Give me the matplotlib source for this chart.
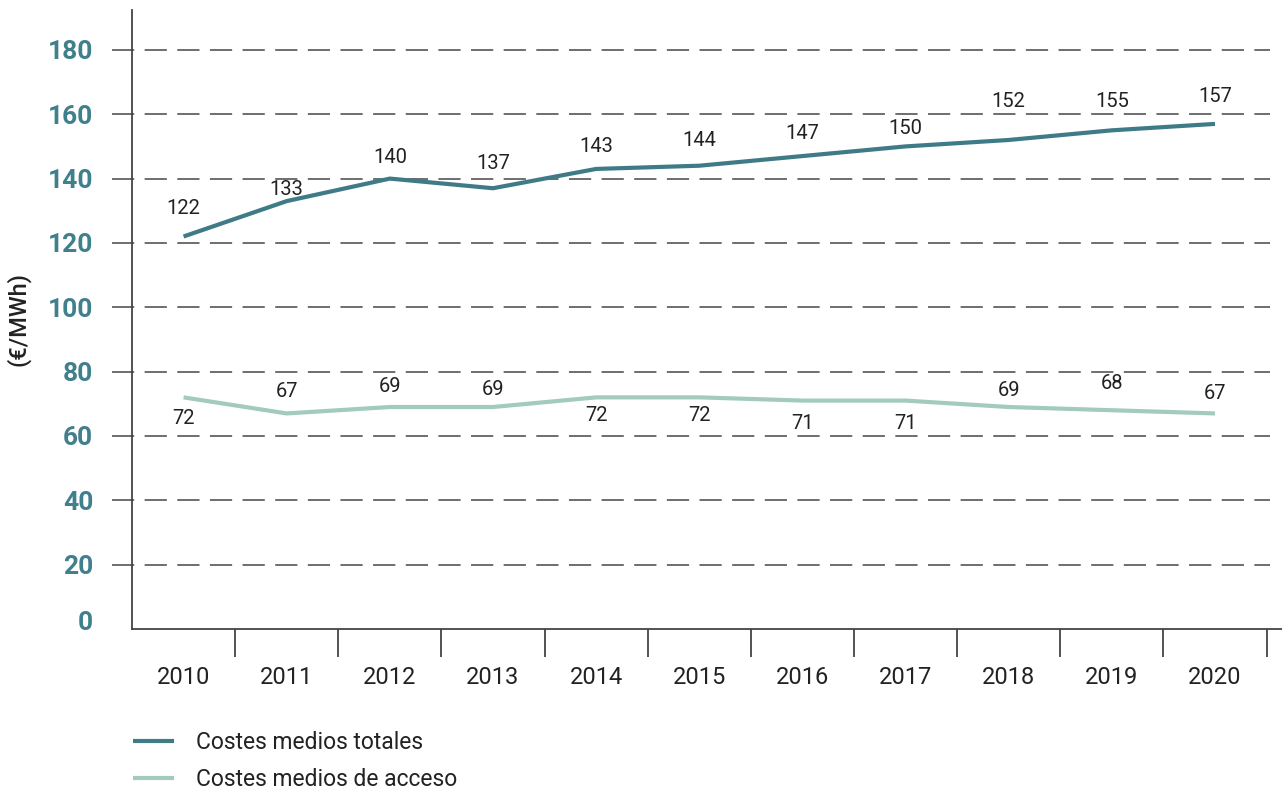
import matplotlib.pyplot as plt
from matplotlib.ticker import FixedLocator, NullFormatter
from matplotlib.transforms import ScaledTranslation

plt.rcParams['font.family'] = ['Roboto', 'DejaVu Sans']
plt.rcParams['lines.scale_dashes'] = False

# data
years = ['2010', '2011', '2012', '2013', '2014', '2015', '2016', '2017', '2018', '2019', '2020']
totales = [122, 133, 140, 137, 143, 144, 147, 150, 152, 155, 157]
acceso = [72, 67, 69, 69, 72, 72, 71, 71, 69, 68, 67]
y_ticks = [0, 20, 40, 60, 80, 100, 120, 140, 160, 180]

# label offsets in pixels (placement only)
off_totales = [28, 12, 21, 25, 22, 25, 23, 18, 38, 29, 27]
off_acceso = [-21, 22, 21, 18, -18, -18, -23, -23, 17, 27, 20]

c_tot = '#3e7b87'
c_acc = '#a2cbbb'
c_tick = '#3f808c'
c_grid = '#555555'

fig = plt.figure(figsize=(12.82, 7.92), dpi=100)
ax = fig.add_axes([132 / 1282, 1 - 629 / 792, 1150 / 1282, 619 / 792])

x = list(range(len(years)))
ax.set_xlim(-0.5, 10.65)
ax.set_ylim(0, 192.4)

# dashed grid lines, poking out left of the axis
for yv in y_ticks[1:]:
    ax.axhline(yv, xmin=-20 / 1150, xmax=(1270 - 132) / 1150, color=c_grid,
               lw=1.2, dashes=(16, 7.5), clip_on=False, zorder=1)

ax.plot(x, totales, color=c_tot, lw=3, solid_capstyle='butt', zorder=3, label='Costes medios totales')
ax.plot(x, acceso, color=c_acc, lw=3, solid_capstyle='butt', zorder=3, label='Costes medios de acceso')

for xi, v, o in zip(x, totales, off_totales):
    ax.annotate(str(v), (xi, v), xytext=(0, o), textcoords='offset pixels',
                ha='center', va='center', fontsize=14.5, color='#222222')
for xi, v, o in zip(x, acceso, off_acceso):
    ax.annotate(str(v), (xi, v), xytext=(0, o), textcoords='offset pixels',
                ha='center', va='center', fontsize=14.5, color='#222222')

# spines
for s in ['top', 'right']:
    ax.spines[s].set_visible(False)
for s in ['left', 'bottom']:
    ax.spines[s].set_color('#444444')
    ax.spines[s].set_linewidth(1.3)

# y ticks
ax.set_yticks(y_ticks)
ax.tick_params(axis='y', length=0, pad=28, labelsize=19, labelcolor=c_tick)
for lab in ax.get_yticklabels():
    lab.set_fontweight('bold')
# the zero label sits a little above the axis line
zero_lab = ax.get_yticklabels()[0]
zero_lab.set_transform(zero_lab.get_transform() + ScaledTranslation(0, 9 / 100, fig.dpi_scale_trans))

# x ticks: marks at boundaries, labels at centres
ax.xaxis.set_major_locator(FixedLocator([i + 0.5 for i in x]))
ax.xaxis.set_major_formatter(NullFormatter())
ax.xaxis.set_minor_locator(FixedLocator(x))
ax.set_xticklabels(years, minor=True)
ax.tick_params(axis='x', which='major', length=20, width=1.3, color='#444444', direction='out')
ax.tick_params(axis='x', which='minor', length=0, pad=27, labelsize=17, labelcolor='#222222')

ax.set_ylabel('(€/MWh)', fontsize=17, color='#222222', fontweight='medium')
ax.yaxis.set_label_coords(-102 / 1150, 0.5)

fig.legend(loc='upper left', bbox_to_anchor=(133 / 1282, 1 - 731 / 792), frameon=False,
           fontsize=16.5, handlelength=1.8, handletextpad=0.95, labelspacing=0.62,
           labelcolor='#222222', borderpad=0, borderaxespad=0)

fig.savefig('out.png', dpi=100)
